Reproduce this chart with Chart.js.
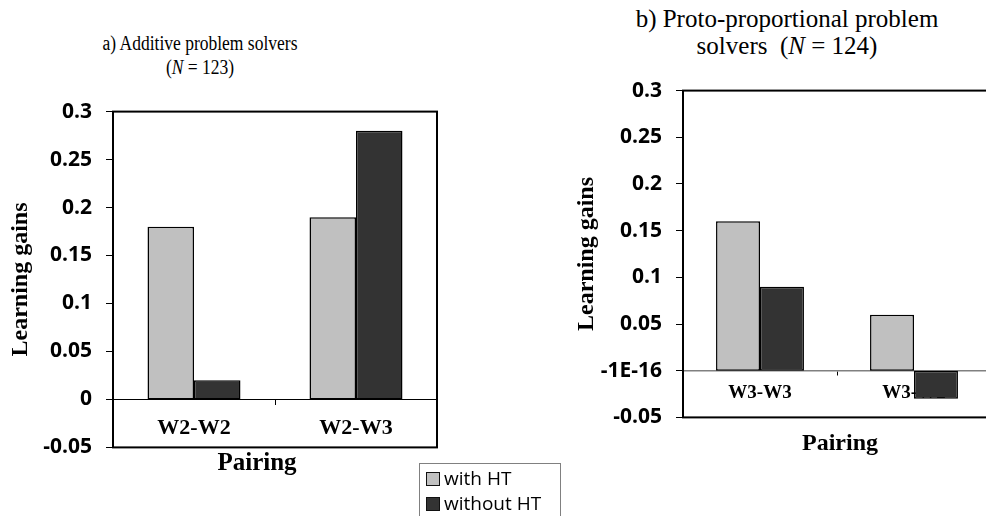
<!DOCTYPE html>
<html>
<head>
<meta charset="utf-8">
<script src="https://cdn.jsdelivr.net/npm/chart.js@4.4.1/dist/chart.umd.min.js"></script>
<style>
  html, body { margin: 0; padding: 0; background: #fff; }
  #page { position: relative; width: 986px; height: 516px; overflow: hidden; background: #fff; }
  canvas { position: absolute; }
  .ttl { position: absolute; text-align: center; font-family: 'Liberation Serif', 'Times New Roman', serif; color: #000; white-space: nowrap; }
  .axt { position: absolute; font-family: 'Liberation Serif', 'Times New Roman', serif; font-weight: bold; color: #000; white-space: nowrap; transform: translate(-50%, -50%); }
  #legend { position: absolute; left: 419px; top: 463px; width: 140px; height: 70px; border: 1px solid #808080; font-family: 'Open Sans', sans-serif; font-size: 19px; color: #000; }
  .item { position: absolute; left: 6px; height: 22px; line-height: 22px; }
  .sw { display: inline-block; width: 12px; height: 12px; border: 1.5px solid #111; vertical-align: -1px; margin-right: 4px; }
</style>
</head>
<body>
<div id="page">
  <div class="ttl" style="left:50px; top:31px; width:300px; font-size:20px; line-height:24px; transform:scaleX(0.875);">a) Additive problem solvers<br>(<i>N</i> = 123)</div>
  <div class="ttl" style="left:610px; top:5px; width:354px; font-size:25px; line-height:27px;">b) Proto-proportional problem<br>solvers&nbsp; (<i>N</i> = 124)</div>

  <canvas id="left-chart" width="450" height="389" style="left:0; top:85px;"></canvas>
  <canvas id="right-chart" width="432" height="380" style="left:568px; top:64px;"></canvas>

  <div class="axt" style="left:257px; top:462px; font-size:25px;">Pairing</div>
  <div class="axt" style="left:840px; top:442px; font-size:24px;">Pairing</div>

  <div id="legend">
    <div class="item" style="top:3px;"><span class="sw" style="background:#c0c0c0"></span>with HT</div>
    <div class="item" style="top:28px;"><span class="sw" style="background:#333333"></span>without HT</div>
  </div>
</div>

<script>
// Data
const seriesNames = ['with HT', 'without HT'];

const leftPairings = ['W2-W2', 'W2-W3'];
const leftWithHT = [0.18, 0.19];
const leftWithoutHT = [0.02, 0.28];
const leftTickLabels = ['-0.05', '0', '0.05', '0.1', '0.15', '0.2', '0.25', '0.3'];

const rightPairings = ['W3-W3', 'W3-W2'];
const rightWithHT = [0.16, 0.06];
const rightWithoutHT = [0.09, -0.03];
const rightTickLabels = ['-0.05', '-1E-16', '0.05', '0.1', '0.15', '0.2', '0.25', '0.3'];

const barColors = ['#c0c0c0', '#333333'];

// draws the box round the plot area
const frame = {
    id: 'frame',
    afterDatasetsDraw(chart) {
        const a = chart.chartArea;
        const ctx = chart.ctx;
        ctx.save();
        ctx.strokeStyle = '#000';
        ctx.lineWidth = 2;
        ctx.strokeRect(a.left, a.top, a.right - a.left, a.bottom - a.top);
        ctx.restore();
    }
};

function makeChart(id, cfg) {
    const ctx = document.getElementById(id);
    return new Chart(ctx, {
        type: 'bar',
        data: {
            labels: cfg.labels,
            datasets: [cfg.withHT, cfg.withoutHT].map((vals, i) => ({
                label: seriesNames[i],
                data: vals,
                backgroundColor: barColors[i],
                borderColor: '#000',
                borderWidth: 1.5,
                borderSkipped: false,
                categoryPercentage: cfg.catPct,
                barPercentage: 1
            }))
        },
        options: {
            responsive: false,
            animation: false,
            devicePixelRatio: 1,
            layout: { padding: cfg.padding },
            plugins: {
                legend: { display: false },
                title: { display: false },
                tooltip: { enabled: false }
            },
            scales: {
                x: {
                    type: 'category',
                    position: { y: 0 },
                    offset: true,
                    grid: {
                        offset: true,
                        drawOnChartArea: false,
                        drawTicks: true,
                        tickLength: cfg.xTickLen,
                        color: '#000'
                    },
                    border: { display: true, color: cfg.zeroColor, width: cfg.zeroWidth },
                    ticks: {
                        color: '#000',
                        padding: cfg.xPad,
                        font: { family: "'Liberation Serif', 'Times New Roman', serif", weight: 'bold', size: cfg.xFont }
                    }
                },
                y: {
                    min: -0.05,
                    max: 0.3,
                    afterFit(scale) { scale.width = cfg.yWidth; },
                    grid: {
                        drawOnChartArea: false,
                        drawTicks: true,
                        tickLength: 7,
                        color: '#000'
                    },
                    border: { display: true, color: '#000', width: 2 },
                    ticks: {
                        stepSize: 0.05,
                        color: '#000',
                        padding: 14,
                        font: { family: "'Open Sans', sans-serif", weight: 'bold', size: 21 },
                        callback: (v, i) => cfg.tickLabels[i]
                    },
                    title: {
                        display: true,
                        text: 'Learning gains',
                        color: '#000',
                        padding: { top: 0, bottom: 0 },
                        font: { family: "'Liberation Serif', 'Times New Roman', serif", weight: 'bold', size: 24 }
                    }
                }
            }
        },
        plugins: [frame]
    });
}

makeChart('left-chart', {
    labels: leftPairings,
    withHT: leftWithHT,
    withoutHT: leftWithoutHT,
    tickLabels: leftTickLabels,
    catPct: 0.574,
    padding: { left: 6, top: 10, right: 13, bottom: 10 },
    yWidth: 107,
    xTickLen: 5,
    xPad: 11,
    xFont: 22,
    zeroColor: '#000',
    zeroWidth: 1
});

makeChart('right-chart', {
    labels: rightPairings,
    withHT: rightWithHT,
    withoutHT: rightWithoutHT,
    tickLabels: rightTickLabels,
    catPct: 0.571,
    padding: { left: 4, top: 9, right: 9, bottom: 11 },
    yWidth: 111,
    xTickLen: 4,
    xPad: 7,
    xFont: 19,
    zeroColor: '#808080',
    zeroWidth: 1.5
});
</script>
</body>
</html>
